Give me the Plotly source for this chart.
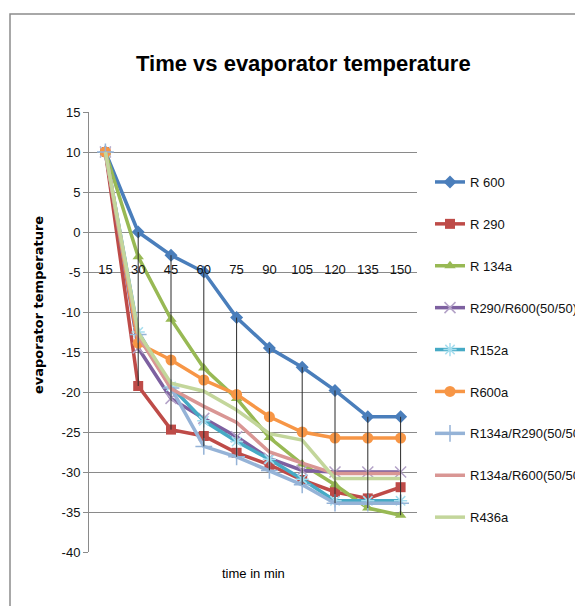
import plotly.graph_objects as go

time_min = [15, 30, 45, 60, 75, 90, 105, 120, 135, 150]
tick_labels = ["15", "30", "45", "60", "75", "90", "105", "120", "135", "150"]

r600 = [10, 0, -2.9, -5, -10.7, -14.5, -16.9, -19.8, -23.1, -23.1]
r290 = [10, -19.25, -24.7, -25.5, -27.6, -29.1, -31.0, -32.5, -33.3, -31.9]
r134a = [10, -3.1, -10.9, -17.0, -20.8, -25.7, -29.0, -31.6, -34.5, -35.4]
r290_r600 = [10, -14.5, -20.8, -23.3, -25.6, -28.3, -29.8, -30.0, -30.0, -30.0]
r152a = [10, -12.5, -19.3, -23.6, -26.2, -28.4, -30.9, -33.6, -33.6, -33.6]
r600a = [10, -13.9, -16.0, -18.5, -20.3, -23.1, -25.0, -25.75, -25.75, -25.75]
r134a_r290 = [10, -12.8, -19.5, -26.8, -28.1, -29.8, -31.6, -33.9, -33.9, -33.9]
r134a_r600 = [10, -13.0, -19.6, -21.8, -23.8, -27.5, -28.9, -30.2, -30.2, -30.2]
r436a = [10, -12.6, -18.9, -19.9, -22.25, -25.2, -26.0, -30.8, -30.8, -30.8]

series_names = ["R 600", "R 290", "R 134a", "R290/R600(50/50)", "R152a", "R600a",
                "R134a/R290(50/50)", "R134a/R600(50/50)", "R436a"]
series_values = [r600, r290, r134a, r290_r600, r152a, r600a, r134a_r290, r134a_r600, r436a]
line_colors = ["#4A7EBB", "#BE4B48", "#98B954", "#7D60A0", "#46AAC5", "#F79646",
               "#95B3D7", "#D99694", "#C3D69B"]
marker_symbols = ["diamond", "square", "triangle-up", "x-thin-open", "asterisk-open", "circle",
                  "cross-thin-open", None, None]
marker_colors = ["#4A7EBB", "#BE4B48", "#98B954", "#B3A2C7", "#A5DDEE", "#F79646",
                 "#95B3D7", "#D99694", "#C3D69B"]
marker_sizes = [10, 10, 10, 11, 11, 11, 12, 0, 0]

FONT = "Liberation Sans, Arial, sans-serif"

fig = go.Figure()
for i, (name, vals) in enumerate(zip(series_names, series_values)):
    sym = marker_symbols[i]
    if sym is None:
        mode = "lines"
        marker = None
    else:
        mode = "lines+markers"
        if sym.endswith("-open"):
            marker = dict(symbol=sym, size=marker_sizes[i], color=marker_colors[i],
                          line=dict(color=marker_colors[i], width=1.5))
        else:
            marker = dict(symbol=sym, size=marker_sizes[i], color=marker_colors[i],
                          line=dict(width=0))
    fig.add_trace(go.Scatter(
        x=time_min, y=vals, name=name, mode=mode, marker=marker,
        line=dict(color=line_colors[i], width=3.5),
        legendgroup=name,
    ))

# high-low lines: from max to min across series at each time
hl_x, hl_y = [], []
for j, t in enumerate(time_min):
    col = [s[j] for s in series_values]
    hi, lo = max(col), min(col)
    if hi > lo:
        hl_x += [t, t, None]
        hl_y += [hi, lo, None]
fig.add_trace(go.Scatter(x=hl_x, y=hl_y, mode="lines", xaxis="x2", yaxis="y",
                         line=dict(color="#2b2b2b", width=1), showlegend=False,
                         hoverinfo="skip"))

OFF = 8  # browser body margin
W, H = 583, 606
L = 89 - OFF
T = 112 - OFF
R = W - (417 - OFF)
B = H - (552 - OFF)
pw, ph = W - L - R, H - T - B

def px_x(p):
    return (p - OFF - L) / pw

def px_y(p):
    return (H - B - (p - OFF)) / ph

fig.update_layout(
    width=W, height=H,
    margin=dict(l=L, r=R, t=T, b=B, pad=0, autoexpand=False),
    paper_bgcolor="white", plot_bgcolor="white",
    showlegend=True,
    legend=dict(x=px_x(430), y=px_y(167), xanchor="left", yanchor="top",
                font=dict(family=FONT, size=13, color="#111"),
                tracegroupgap=22, traceorder="grouped", itemwidth=30,
                bgcolor="rgba(0,0,0,0)"),
    xaxis=dict(range=[7.5, 157.5], showgrid=False, showticklabels=False,
               showline=False, zeroline=False, ticks=""),
    xaxis2=dict(range=[7.5, 157.5], overlaying="x", anchor="free",
                position=px_y(260), side="bottom",
                tickmode="array", tickvals=time_min, ticktext=tick_labels,
                tickfont=dict(family=FONT, size=13, color="#111"),
                showgrid=False, showline=False, zeroline=False, ticks=""),
    yaxis=dict(range=[-40, 15], tickmode="array", tickvals=list(range(-40, 16, 5)),
               ticktext=[("-" if v < 0 else "") + str(abs(v)) for v in range(-40, 16, 5)],
               showgrid=True, gridcolor="#8a8a8a", gridwidth=1,
               showline=True, linecolor="#8a8a8a", linewidth=1,
               ticks="outside", ticklen=5, tickcolor="#8a8a8a",
               tickfont=dict(family=FONT, size=13, color="#111"),
               zeroline=False),
    annotations=[
        dict(text="<b>Time vs evaporator temperature</b>", xref="paper", yref="paper",
             x=px_x(303), y=px_y(63), xanchor="center", yanchor="middle",
             showarrow=False, font=dict(family=FONT, size=22, color="#000")),
        dict(text="time in min", xref="paper", yref="paper",
             x=px_x(253), y=px_y(573), xanchor="center", yanchor="middle",
             showarrow=False, font=dict(family=FONT, size=13, color="#000")),
        dict(text="<b>evaporator temperature</b>", xref="paper", yref="paper",
             x=px_x(38), y=px_y(305), xanchor="center", yanchor="middle",
             textangle=-90, showarrow=False,
             font=dict(family="DejaVu Sans, sans-serif", size=13, color="#000")),
    ],
    shapes=[
        dict(type="rect", xref="paper", yref="paper",
             x0=px_x(10), x1=px_x(640), y0=px_y(660), y1=px_y(14),
             line=dict(color="#8c8c8c", width=1.5), fillcolor="rgba(0,0,0,0)", layer="below"),
    ],
)

fig.write_html("out.html")
